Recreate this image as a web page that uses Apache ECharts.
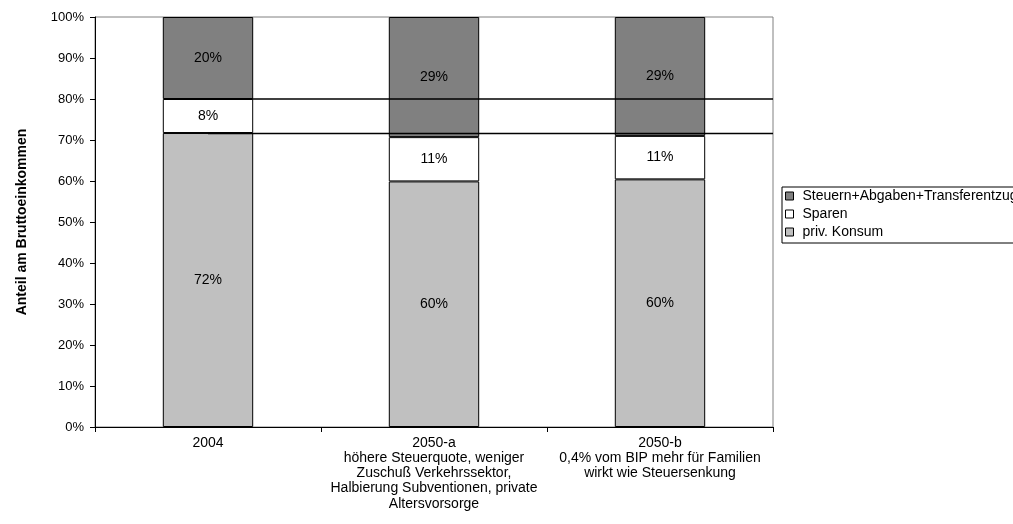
<!DOCTYPE html>
<html>
<head>
<meta charset="utf-8">
<script src="https://cdn.jsdelivr.net/npm/echarts@6/dist/echarts.min.js"></script>
<style>
html,body{margin:0;padding:0;background:#fff;}
#chart{width:1013px;height:524px;}
</style>
</head>
<body>
<div id="chart"></div>
<script>
var categories = [
  "2004",
  "2050-a\nhöhere Steuerquote, weniger\nZuschuß Verkehrssektor,\nHalbierung Subventionen, private\nAltersvorsorge",
  "2050-b\n0,4% vom BIP mehr für Familien\nwirkt wie Steuersenkung"
];
var konsum = [71.7, 59.9, 60.4];
var sparen = [8.3, 10.8, 10.6];
var steuern = [20.0, 29.3, 29.0];
var refLines = [80, 71.6];
var yTicks = [0, 10, 20, 30, 40, 50, 60, 70, 80, 90, 100];

var FONT = "'Liberation Sans', Arial, sans-serif";
var chart = echarts.init(document.getElementById('chart'), null, {renderer: 'canvas'});

function seg(name, data, color) {
  return {
    name: name,
    type: 'bar',
    stack: 'total',
    data: data,
    barWidth: '40%',
    itemStyle: {color: color, borderColor: '#000', borderWidth: 1},
    label: {
      show: true, position: 'inside', color: '#000',
      fontFamily: FONT, fontSize: 14,
      formatter: function (p) { return Math.round(p.value) + '%'; }
    },
    emphasis: {disabled: true},
    animation: false,
    z: 2
  };
}

// reference lines: from the centre of the first category to the right edge of the plot
var nCat = categories.length;
var lineSeries = refLines.map(function (v, i) {
  return {
    name: 'ref' + i,
    type: 'line',
    xAxisIndex: 1,
    data: [[0.5, v], [nCat, v]],
    symbol: 'none',
    lineStyle: {color: '#000', width: 1.5},
    silent: true,
    animation: false,
    z: 5
  };
});

var option = {
  backgroundColor: '#fff',
  animation: false,
  textStyle: {fontFamily: FONT},
  grid: {
    left: 95, right: 240, top: 17, bottom: 97,
    show: true, borderColor: '#808080', borderWidth: 1, backgroundColor: 'transparent'
  },
  legend: {
    orient: 'vertical',
    left: 782, top: 187,
    padding: [2, 40, 4, 3],
    itemGap: 4,
    itemWidth: 8, itemHeight: 8,
    icon: 'rect',
    borderColor: '#000', borderWidth: 1,
    selectedMode: false,
    data: ['Steuern+Abgaben+Transferentzug', 'Sparen', 'priv. Konsum'],
    itemStyle: {borderColor: '#000', borderWidth: 1},
    textStyle: {fontFamily: FONT, fontSize: 14, color: '#000', padding: [0, 0, 0, 4]}
  },
  xAxis: [{
    type: 'category',
    data: categories,
    axisLine: {show: true, lineStyle: {color: '#000', width: 1}},
    axisTick: {show: true, length: 5, lineStyle: {color: '#000'}},
    axisLabel: {interval: 0, color: '#000', fontFamily: FONT, fontSize: 14, lineHeight: 15.3, margin: 8},
    splitLine: {show: false}
  }, {
    type: 'value',
    min: 0, max: nCat,
    show: false,
    splitLine: {show: false}
  }],
  yAxis: {
    type: 'value',
    min: yTicks[0], max: yTicks[yTicks.length - 1], interval: 10,
    name: 'Anteil am Bruttoeinkommen',
    nameLocation: 'middle',
    nameGap: 66,
    nameTextStyle: {fontFamily: FONT, fontSize: 14, fontWeight: 'bold', color: '#000'},
    axisLine: {show: true, lineStyle: {color: '#000', width: 1}},
    axisTick: {show: true, length: 5, lineStyle: {color: '#000'}},
    axisLabel: {color: '#000', fontFamily: FONT, fontSize: 13, margin: 11, formatter: '{value}%'},
    splitLine: {show: false}
  },
  series: [
    seg('priv. Konsum', konsum, '#c0c0c0'),
    seg('Sparen', sparen, '#ffffff'),
    seg('Steuern+Abgaben+Transferentzug', steuern, '#808080')
  ].concat(lineSeries)
};
chart.setOption(option);
</script>
</body>
</html>
